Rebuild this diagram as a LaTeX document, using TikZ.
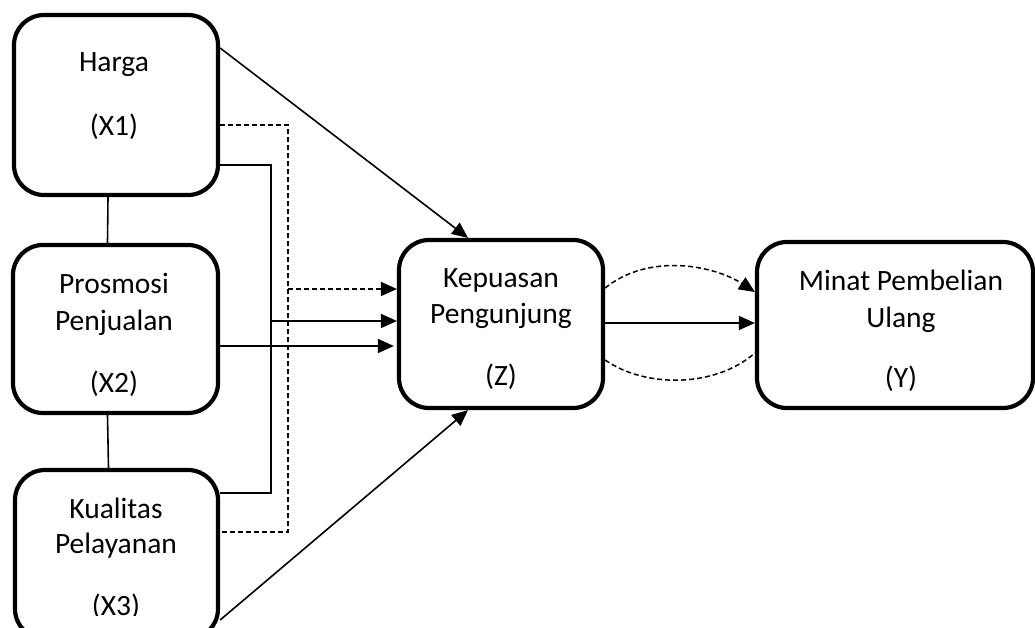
\documentclass[tikz,border=0pt]{standalone}
\usepackage{fontspec}
\setmainfont{Carlito}
\usetikzlibrary{arrows.meta}
\begin{document}
\begin{tikzpicture}[x=1pt,y=-1pt,
  varbox/.style={draw, line width=4.2pt, rounded corners=30pt, inner sep=0pt},
  lbl/.style={anchor=base, inner sep=0pt, font=\fontsize{29.5}{35}\selectfont},
  link/.style={line width=1.6pt},
  dlink/.style={line width=1.5pt, dash pattern=on 5pt off 3pt},
  tip/.style={-{Triangle[length=16pt,width=14pt]}},
]
\useasboundingbox (0,0) rectangle (1035,628);
\clip (0,0) rectangle (1035,628);

% variable boxes
\node[varbox, minimum width=204pt, minimum height=180pt] (h) at (116,105) {};
\node[varbox, minimum width=205pt, minimum height=168pt] (p) at (115.5,329) {};
\node[varbox, minimum width=203pt, minimum height=169pt] (k) at (116.5,554.5) {};
\node[varbox, minimum width=204pt, minimum height=168pt] (z) at (501,324) {};
\node[varbox, minimum width=276pt, minimum height=166pt] (y) at (895,325) {};

% labels
\node[lbl] (h1) at (114,72) {Harga};
\node[lbl] (h2) at (114,136) {(X1)};
\node[lbl] (p1) at (114,293) {Prosmosi};
\node[lbl] (p2) at (114,330) {Penjualan};
\node[lbl] (p3) at (114,392) {(X2)};
\node[lbl] (k1) at (116,518) {Kualitas};
\node[lbl] (k2) at (116,553) {Pelayanan};
\begin{scope}
  \clip (0,0) rectangle (1035,615);
  \node[lbl] (k3) at (116,615) {(X3)};
\end{scope}
\node[lbl] (z1) at (501,287) {Kepuasan};
\node[lbl] (z2) at (501,323) {Pengunjung};
\node[lbl] (z3) at (501,385) {(Z)};
\node[lbl] (y1) at (901,290) {Minat Pembelian};
\node[lbl] (y2) at (901,327) {Ulang};
\node[lbl] (y3) at (901,387) {(Y)};

% correlations between the exogenous variables
\draw[link] ([xshift=-8pt]h.south) -- ([xshift=-8pt]p.north);
\draw[link] ([xshift=-8pt]p.south) -- ([xshift=-8pt]k.north);

% joint paths X1, X3 (dashed and solid brackets)
\coordinate (dx) at (288,0);
\coordinate (sx) at (271,0);
\draw[dlink] (h.east |- 0,125) -- (dx |- 0,125) -- (dx |- 0,532) -- (k.east |- 0,532);
\draw[dlink, tip] (dx |- 0,289) -- (z.west |- 0,289);
\draw[link] (h.east |- 0,165) -- (sx |- 0,165) -- (sx |- 0,493) -- (k.east |- 0,493);
\draw[link, tip] (sx |- 0,321) -- (z.west |- 0,321);
\draw[link, tip, shorten >=3pt] (p.east |- 0,346) -- (z.west |- 0,346);

% direct paths to Z
\draw[link, tip] (h.east |- 0,48) -- (z.north -| 468,0);
\draw[link, tip] (k.east |- 0,620) -- (z.south -| 468,0);

% Z to Y
\draw[link, tip] (z.east |- 0,323) -- (y.west |- 0,323);
\draw[dlink, tip] (z.east |- 0,288) .. controls (650,252) and (715,266) .. (y.west |- 0,292);
\draw[dlink] (z.east |- 0,360) .. controls (645,388) and (715,388) .. (y.west |- 0,353);
\end{tikzpicture}
\end{document}
